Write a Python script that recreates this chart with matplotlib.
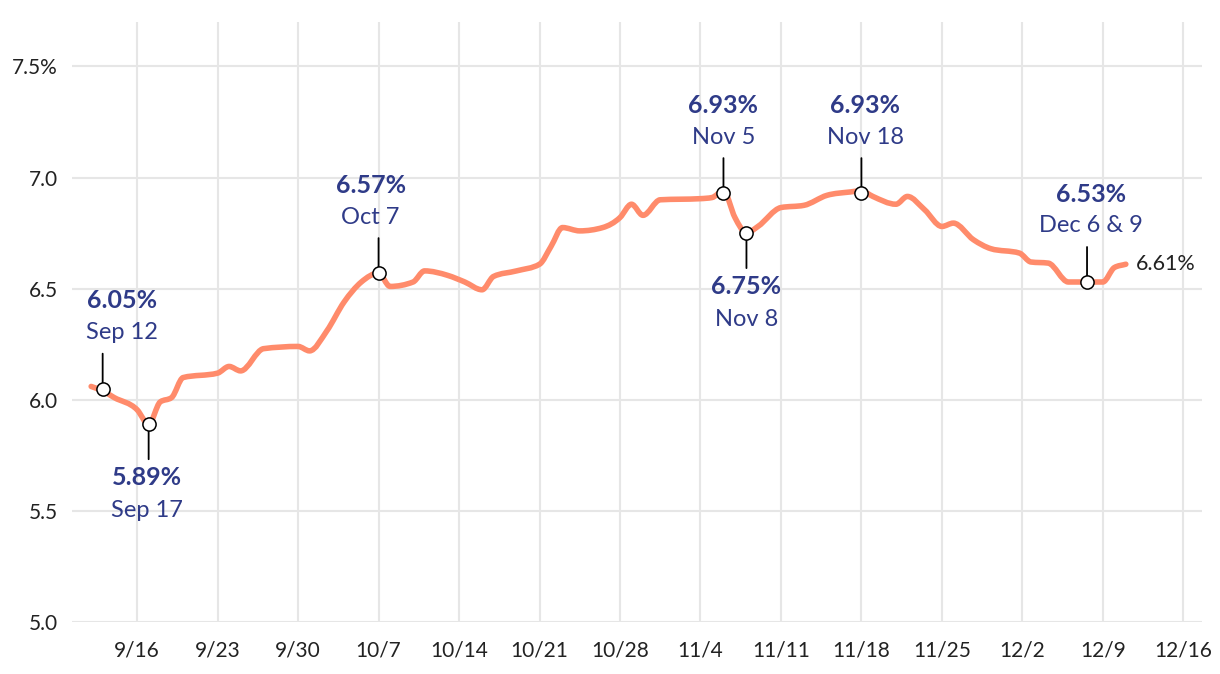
import matplotlib
matplotlib.use("Agg")
import matplotlib.pyplot as plt
import matplotlib.dates as mdates
from matplotlib.path import Path
from matplotlib.patches import PathPatch
import numpy as np
import pandas as pd

plt.rcParams["font.family"] = ["Lato", "DejaVu Sans"]

# rate line
dates = [
    "2024-09-12", "2024-09-13", "2024-09-14", "2024-09-16", "2024-09-17",
    "2024-09-18", "2024-09-19", "2024-09-20", "2024-09-23", "2024-09-24",
    "2024-09-25", "2024-09-27", "2024-09-30", "2024-10-01", "2024-10-02 12:00",
    "2024-10-04", "2024-10-05 12:00", "2024-10-07", "2024-10-08", "2024-10-10",
    "2024-10-11", "2024-10-13", "2024-10-14 12:00", "2024-10-16", "2024-10-17",
    "2024-10-19", "2024-10-21", "2024-10-22", "2024-10-23", "2024-10-24 12:00",
    "2024-10-26 12:00", "2024-10-28", "2024-10-29", "2024-10-30", "2024-10-31 12:00",
    "2024-11-04", "2024-11-05", "2024-11-06", "2024-11-07", "2024-11-08",
    "2024-11-09", "2024-11-11", "2024-11-13", "2024-11-15", "2024-11-17",
    "2024-11-18", "2024-11-19", "2024-11-21", "2024-11-22", "2024-11-23 12:00",
    "2024-11-25", "2024-11-26", "2024-11-27 18:00", "2024-11-29 06:00", "2024-12-01 18:00",
    "2024-12-02 18:00", "2024-12-04 06:00", "2024-12-06", "2024-12-07 12:00", "2024-12-09",
    "2024-12-10", "2024-12-11",
]
rates = [
    6.06, 6.04, 6.01, 5.955, 5.89,
    5.99, 6.01, 6.10, 6.12, 6.15,
    6.13, 6.23, 6.24, 6.22, 6.31,
    6.44, 6.53, 6.57, 6.51, 6.53,
    6.58, 6.56, 6.53, 6.495, 6.555,
    6.58, 6.61, 6.69, 6.775, 6.76,
    6.775, 6.82, 6.88, 6.83, 6.90,
    6.905, 6.91, 6.94, 6.82, 6.75,
    6.78, 6.865, 6.875, 6.92, 6.935,
    6.94, 6.915, 6.88, 6.915, 6.855,
    6.78, 6.795, 6.72, 6.68, 6.66,
    6.62, 6.615, 6.53, 6.53, 6.53,
    6.595, 6.61,
]

# highlighted points
note_dates = ["2024-09-13", "2024-09-17", "2024-10-07", "2024-11-06",
              "2024-11-08", "2024-11-18", "2024-12-07 15:00"]
note_values = [6.05, 5.89, 6.57, 6.93, 6.75, 6.93, 6.53]
note_labels = ["Sep 12", "Sep 17", "Oct 7", "Nov 5", "Nov 8", "Nov 18", "Dec 6 & 9"]
note_above = [True, False, True, True, False, True, True]
note_dx = [19, -2, -8, 0, 0, 4, 4]  # pixel nudges for the labels

y_ticks = [5.0, 5.5, 6.0, 6.5, 7.0, 7.5]

LINE = "#FF8B6B"
NAVY = "#2F3B88"
TEXT = "#222222"
GRID = "#E6E6E6"

x = pd.to_datetime(dates, format="mixed")
nx = pd.to_datetime(note_dates, format="mixed")

fig = plt.figure(figsize=(12.2, 6.74), dpi=100)
ax = fig.add_axes([72 / 1220, 52 / 674, 1130 / 1220, 600 / 674])

# markers first so the x axis becomes a date axis
ax.plot(nx, note_values, "o", ms=9.5, mfc="white", mec="black", mew=1.1, zorder=5)

# smooth monotone curve through the points (bezier path, like d3 curveMonotoneX)
xn = mdates.date2num(x)
yn = np.array(rates)
h = np.diff(xn)
s = np.diff(yn) / h
m = np.empty_like(yn)
m[0], m[-1] = s[0], s[-1]
for i in range(1, len(yn) - 1):
    p = (s[i - 1] * h[i] + s[i] * h[i - 1]) / (h[i - 1] + h[i])
    m[i] = (np.sign(s[i - 1]) + np.sign(s[i])) * min(abs(s[i - 1]), abs(s[i]), 0.5 * abs(p))
verts = [(xn[0], yn[0])]
codes = [Path.MOVETO]
for i in range(len(h)):
    verts += [(xn[i] + h[i] / 3, yn[i] + m[i] * h[i] / 3),
              (xn[i + 1] - h[i] / 3, yn[i + 1] - m[i + 1] * h[i] / 3),
              (xn[i + 1], yn[i + 1])]
    codes += [Path.CURVE4] * 3
ax.add_patch(PathPatch(Path(verts, codes), fill=False, edgecolor=LINE, lw=4,
                       capstyle="round", joinstyle="round", zorder=3))

for d, v, lab, up, dx in zip(nx, note_values, note_labels, note_above, note_dx):
    sgn = 1 if up else -1
    ax.annotate("", xy=(d, v), xytext=(0, sgn * 35), textcoords="offset pixels",
                arrowprops=dict(arrowstyle="-", color="black", lw=1.3,
                                shrinkA=0, shrinkB=4.5), zorder=4)
    if up:
        pct_dy, lab_dy = 88, 56
    else:
        pct_dy, lab_dy = -53, -86
    ax.annotate(f"{v:.2f}%", xy=(d, v), xytext=(dx, pct_dy), textcoords="offset pixels",
                ha="center", va="center", fontsize=18, fontweight="bold", color=NAVY)
    ax.annotate(lab, xy=(d, v), xytext=(dx, lab_dy), textcoords="offset pixels",
                ha="center", va="center", fontsize=17, color=NAVY)

ax.annotate(f"{rates[-1]:.2f}%", xy=(x[-1], rates[-1]), xytext=(10, 0),
            textcoords="offset pixels", ha="left", va="center",
            fontsize=15.5, color=TEXT)

weeks = pd.date_range("2024-09-16", "2024-12-16", freq="7D")
ax.set_xticks(weeks)
ax.set_xticklabels([f"{d.month}/{d.day}" for d in weeks])
ax.set_xlim(pd.Timestamp("2024-09-10 08:00"), pd.Timestamp("2024-12-17 15:00"))

ax.set_yticks(y_ticks)
ax.set_yticklabels([f"{t:.1f}%" if t == y_ticks[-1] else f"{t:.1f}" for t in y_ticks])
ax.set_ylim(5.0, 7.70)

ax.grid(True, color=GRID, lw=1.5)
ax.set_axisbelow(True)
for sp in ax.spines.values():
    sp.set_visible(False)
ax.tick_params(axis="both", length=0, labelsize=15, colors=TEXT)
ax.tick_params(axis="x", pad=13)
ax.tick_params(axis="y", pad=10)

fig.savefig("out.png", dpi=100, facecolor="white")
